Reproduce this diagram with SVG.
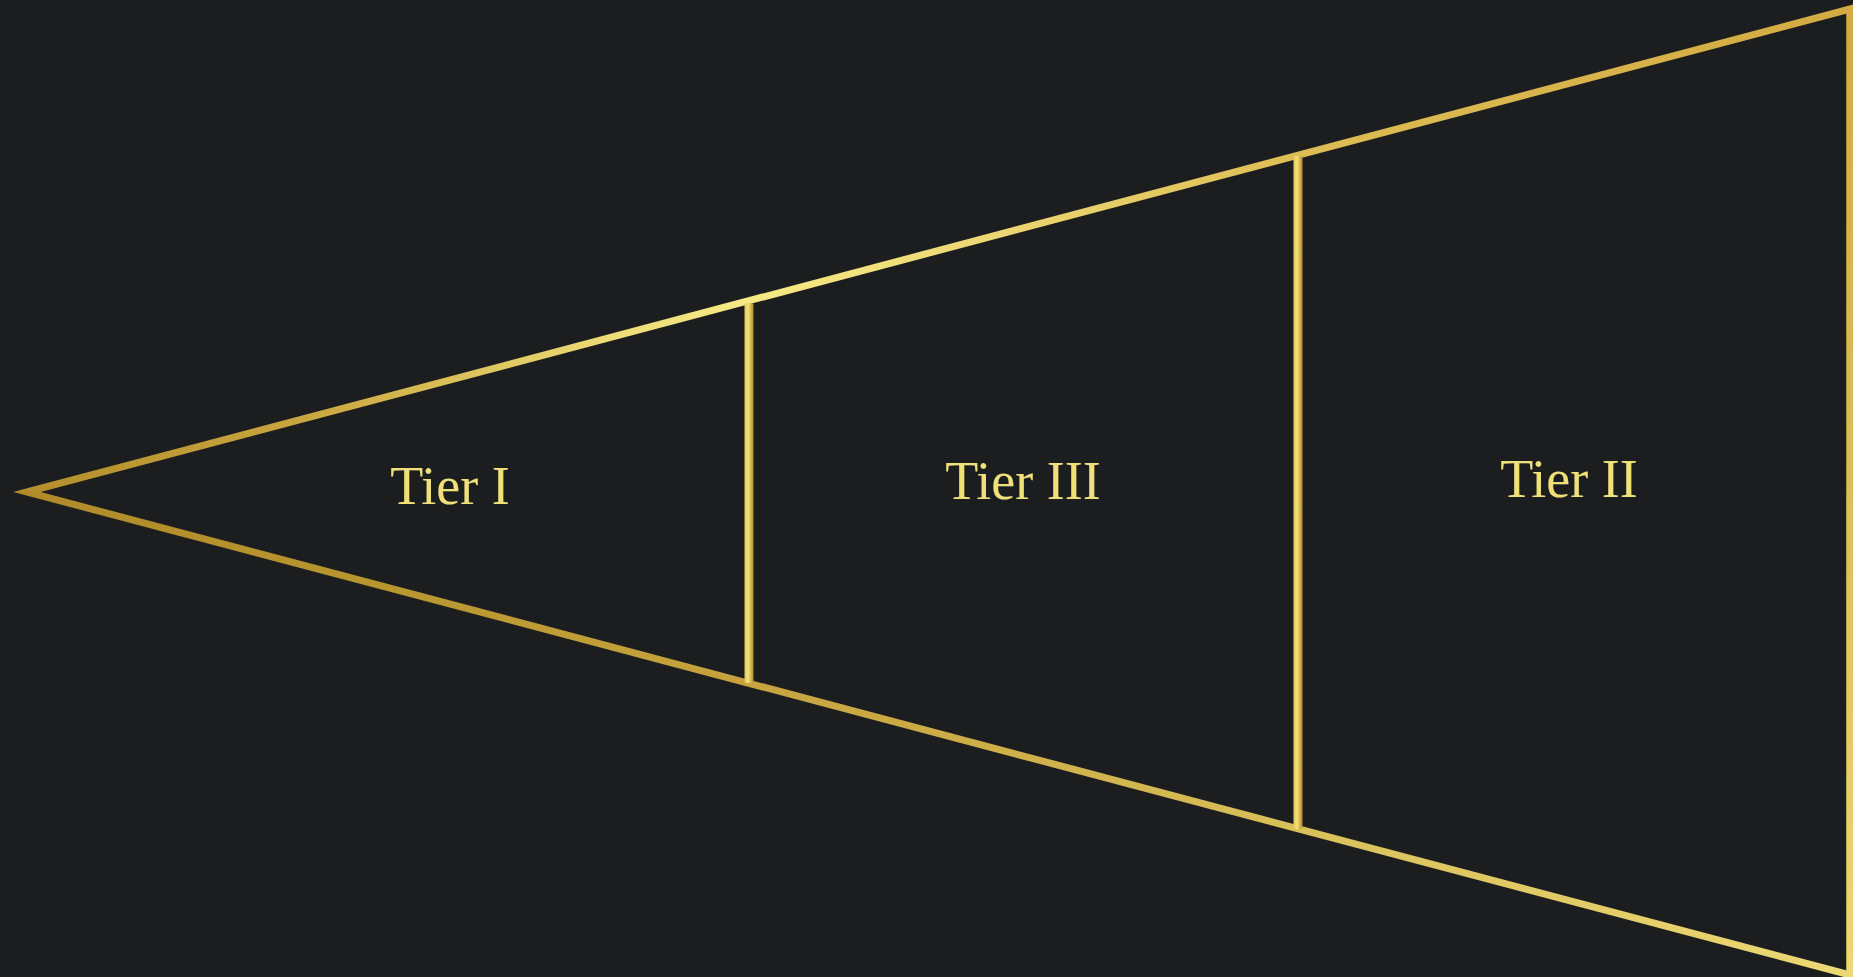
<svg xmlns="http://www.w3.org/2000/svg" width="1853" height="977" viewBox="0 0 1853 977">
<defs>
<linearGradient id="gTop" gradientUnits="userSpaceOnUse" x1="13" y1="0" x2="1850" y2="0">
<stop offset="0" stop-color="#b38e2c"/>
<stop offset="0.16" stop-color="#c9a640"/>
<stop offset="0.33" stop-color="#eedd78"/>
<stop offset="0.40" stop-color="#f6e984"/>
<stop offset="0.54" stop-color="#ecd672"/>
<stop offset="0.70" stop-color="#ddbd55"/>
<stop offset="1" stop-color="#d4aa42"/>
</linearGradient>
<linearGradient id="gBot" gradientUnits="userSpaceOnUse" x1="13" y1="0" x2="1850" y2="0">
<stop offset="0" stop-color="#b08a2a"/>
<stop offset="0.2" stop-color="#b8962f"/>
<stop offset="0.40" stop-color="#c6a33e"/>
<stop offset="0.55" stop-color="#cfb04a"/>
<stop offset="0.70" stop-color="#d9c05a"/>
<stop offset="1" stop-color="#ecd874"/>
</linearGradient>
<linearGradient id="gRight" gradientUnits="userSpaceOnUse" x1="0" y1="9" x2="0" y2="975">
<stop offset="0" stop-color="#d4aa42"/>
<stop offset="0.5" stop-color="#ddbe58"/>
<stop offset="1" stop-color="#ecd874"/>
</linearGradient>
<linearGradient id="bar" x1="0" y1="0" x2="1" y2="0">
<stop offset="0" stop-color="#e2c658"/>
<stop offset="0.4" stop-color="#f4e27a"/>
<stop offset="1" stop-color="#b28a2a"/>
</linearGradient>
<clipPath id="cTop"><rect x="0" y="0" width="1853" height="492"/></clipPath>
<clipPath id="cBot"><rect x="0" y="492" width="1853" height="485"/></clipPath>
<style>
.lbl{font-family:"Liberation Serif","Times New Roman",serif;font-size:54px;fill:#f0e07a;text-anchor:middle}
.bar{fill:url(#bar)}
.tri{fill:none;stroke-width:7;stroke-linejoin:miter;stroke-miterlimit:20}
</style>
</defs>
<rect width="1853" height="977" fill="#1c1d1f"/>
<g id="connectors">
<polygon class="tri" points="27,492 1850,9 1850,975" stroke="url(#gTop)" clip-path="url(#cTop)"/>
<polygon class="tri" points="27,492 1850,9 1850,975" stroke="url(#gBot)" clip-path="url(#cBot)"/>
<line x1="1850" y1="14" x2="1850" y2="970" stroke="url(#gRight)" stroke-width="7"/>
<rect class="bar" x="744.5" y="303" width="9" height="380" rx="2"/>
<rect class="bar" x="1293.5" y="156" width="9" height="673" rx="2"/>
</g>
<g id="tier1"><text class="lbl" x="450" y="504">Tier I</text></g>
<g id="tier3"><text class="lbl" x="1023" y="499">Tier III</text></g>
<g id="tier2"><text class="lbl" x="1569" y="497">Tier II</text></g>
</svg>
